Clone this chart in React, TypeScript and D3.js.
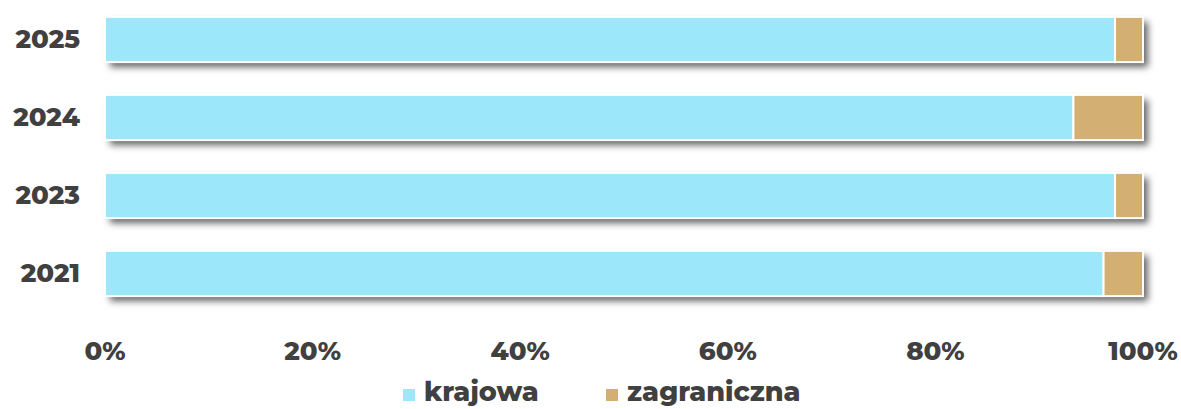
import React from "react";
import * as d3 from "d3";

const categories = ["2025", "2024", "2023", "2021"];
const krajowa = [97.3, 93.3, 97.3, 96.2];
const zagraniczna = [2.7, 6.7, 2.7, 3.8];
const seriesNames = ["krajowa", "zagraniczna"];
const colors = ["#9de7fa", "#d3af73"];
const ticks = [0, 20, 40, 60, 80, 100];

export default function App() {
  const W = 1181, H = 409;
  const x = d3.scaleLinear().domain([0, 100]).range([105, 1143]);
  const y = d3.scaleBand().domain(categories).range([0.5, 312.5]).paddingInner(0.42).paddingOuter(0.21);
  const rows = categories.map((c, i) => ({ c, vals: [krajowa[i], zagraniczna[i]] }));
  const font = "Montserrat, 'Open Sans', sans-serif";
  const textColor = "#404040";
  return (
    <svg width={W} height={H} style={{ position: "absolute", left: 0, top: 0 }}>
      <defs>
        <filter id="sh" x="-5%" y="-50%" width="112%" height="220%">
          <feDropShadow dx="5" dy="5" stdDeviation="3.5" floodColor="#000" floodOpacity="0.6" />
        </filter>
      </defs>
      {rows.map((r) => {
        let acc = 0;
        const yy = y(r.c)!;
        const h = y.bandwidth();
        return (
          <g key={r.c}>
            <rect x={x(0)} y={yy} width={x(100) - x(0)} height={h} fill="#fff" filter="url(#sh)" />
            {r.vals.map((v, j) => {
              const x0 = x(acc);
              acc += v;
              const x1 = x(acc);
              return (
                <rect key={j} x={x0} y={yy} width={x1 - x0} height={h} fill={colors[j]} stroke="#fff" strokeWidth={2} />
              );
            })}
            <text x={80} y={yy + h / 2} dy="0.34em" textAnchor="end" fontFamily={font} fontWeight={800} fontSize={26} fill={textColor}>
              {r.c}
            </text>
          </g>
        );
      })}
      {ticks.map((t) => (
        <text key={t} x={x(t)} y={360} textAnchor="middle" fontFamily={font} fontWeight={800} fontSize={26} fill={textColor}>
          {t}%
        </text>
      ))}
      {seriesNames.map((s, i) => {
        const lx = [403, 606][i];
        return (
          <g key={s}>
            <rect x={lx} y={389} width={12} height={12} fill={colors[i]} />
            <text x={lx + 21} y={401} fontFamily={font} fontWeight={800} fontSize={27} fill={textColor}>
              {s}
            </text>
          </g>
        );
      })}
    </svg>
  );
}
